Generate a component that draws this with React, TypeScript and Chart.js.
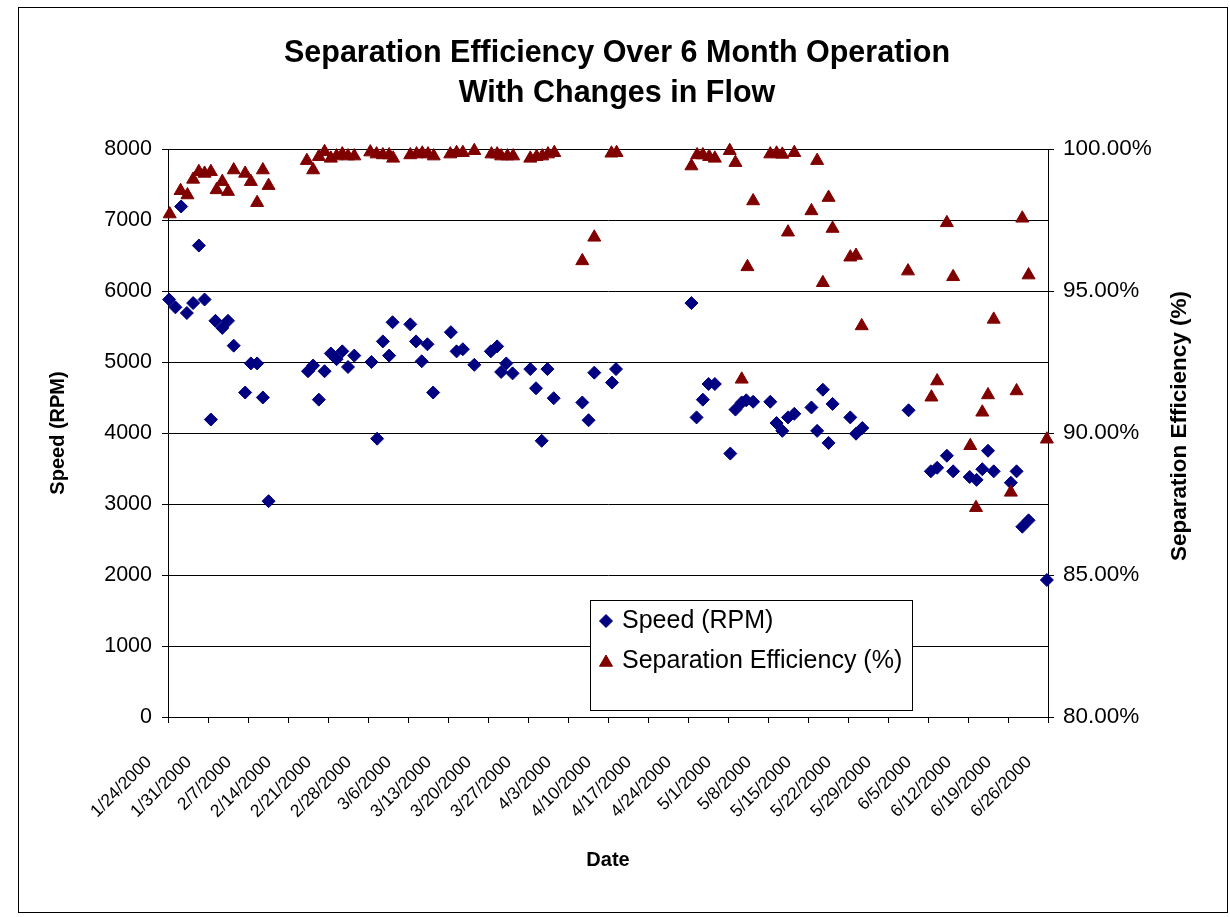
import React, { useEffect, useRef } from "react";
import { Chart, registerables } from "chart.js";

Chart.register(...registerables);

// ---- Text ----
const titleLines = ["Separation Efficiency Over 6 Month Operation", "With Changes in Flow"];
const xAxisTitle = "Date";
const leftAxisTitle = "Speed (RPM)";
const rightAxisTitle = "Separation Efficiency (%)";
const speedLabel = "Speed (RPM)";
const effLabel = "Separation Efficiency (%)";

// ---- Axis settings ----
const startDateUTC = Date.UTC(2000, 0, 24); // 1/24/2000 = day 0
const xMinDays = 0;
const xMaxDays = 154; // 6/26/2000
const xStepDays = 7;
const speedMin = 0;
const speedMax = 8000;
const speedStep = 1000;
const effMin = 80;
const effMax = 100;
const effStep = 5;

// ---- Data: speed (days since 1/24/2000, RPM) ----
const speedDays = [
  0.2, 1.3, 2.3, 3.3, 4.4, 5.4, 6.4, 7.5, 8.3, 9.5, 10.5, 11.5, 13.5, 14.5, 15.6, 16.6, 17.6,
  24.5, 25.4, 26.4, 27.4, 28.5, 29.5, 30.5, 31.5, 32.6,
  35.6, 36.6, 37.6, 38.7, 39.3,
  42.4, 43.4, 44.4, 45.4, 46.4,
  49.5, 50.5, 51.6, 53.6,
  56.5, 57.6, 58.3, 59.2, 60.3,
  63.4, 64.4, 65.4, 66.4, 67.5,
  72.5, 73.6, 74.6, 77.7, 78.4,
  91.6, 92.5, 93.6, 94.6, 95.7,
  98.4, 99.3, 100.4, 101.2, 102.4,
  105.4, 106.5, 107.5, 108.5, 109.6,
  112.6, 113.6, 114.6, 115.6, 116.3,
  119.4, 120.4, 121.5,
  129.6,
  133.5, 134.6, 136.3, 137.4,
  140.3, 141.5, 142.5, 143.5, 144.5,
  147.5, 148.5, 149.5, 150.6,
  153.8,
];
const speedRpm = [
  5880, 5770, 7190, 5690, 5830, 6640, 5880, 4190, 5580, 5480, 5580, 5230, 4570, 4980, 4980, 4500, 3040,
  4870, 4950, 4470, 4870, 5120, 5040, 5150, 4930, 5090,
  5000, 3920, 5290, 5090, 5560,
  5530, 5290, 5010, 5250, 4570,
  5420, 5150, 5180, 4960,
  5150, 5220, 4860, 4980, 4840,
  4900, 4630, 3890, 4900, 4490,
  4430, 4180, 4850, 4710, 4900,
  5830, 4220, 4470, 4690, 4690,
  3710, 4330, 4430, 4460, 4440,
  4440, 4140, 4030, 4220, 4270,
  4360, 4030, 4610, 3860, 4410,
  4220, 3990, 4070,
  4320,
  3460, 3510, 3680, 3460,
  3380, 3340, 3490, 3750, 3460,
  3300, 3460, 2680, 2770,
  1930,
];

// ---- Data: separation efficiency (days since 1/24/2000, %) ----
const effDays = [
  0.3, 2.2, 3.4, 4.4, 5.4, 6.4, 7.5, 8.5, 9.5, 10.5, 11.5, 13.5, 14.5, 15.6, 16.6, 17.6,
  24.3, 25.4, 26.4, 27.4, 28.5, 29.5, 30.5, 31.5, 32.6,
  35.4, 36.5, 37.6, 38.7, 39.4,
  42.4, 43.5, 44.5, 45.5, 46.5,
  49.4, 50.5, 51.6, 53.6,
  56.6, 57.6, 58.3, 59.4, 60.4,
  63.4, 64.5, 65.5, 66.5, 67.6,
  72.5, 74.6, 77.6, 78.5,
  91.6, 92.6, 93.6, 94.7, 95.7,
  98.3, 99.3, 100.4, 101.4, 102.4,
  105.4, 106.5, 107.5, 108.5, 109.6,
  112.6, 113.6, 114.6, 115.6, 116.3,
  119.4, 120.4, 121.4,
  129.5,
  133.6, 134.6, 136.3, 137.4,
  140.4, 141.4, 142.5, 143.5, 144.5,
  147.5, 148.5, 149.5, 150.6,
  153.8,
];
const effPct = [
  97.71, 98.53, 98.38, 98.93, 99.2, 99.14, 99.2, 98.56, 98.85, 98.5, 99.26, 99.14, 98.85, 98.11, 99.26, 98.71,
  99.59, 99.26, 99.73, 99.9, 99.67, 99.75, 99.82, 99.75, 99.75,
  99.89, 99.82, 99.79, 99.79, 99.67,
  99.79, 99.82, 99.85, 99.82, 99.75,
  99.82, 99.87, 99.87, 99.94,
  99.82, 99.82, 99.75, 99.75, 99.75,
  99.67, 99.73, 99.75, 99.82, 99.87,
  96.06, 96.89, 99.85, 99.87,
  99.4, 99.79, 99.79, 99.73, 99.67,
  99.94, 99.52, 91.89, 95.85, 98.17,
  99.82, 99.85, 99.81, 97.07, 99.87,
  97.82, 99.59, 95.29, 98.29, 97.2,
  96.19, 96.25, 93.77,
  95.7,
  91.26, 91.83, 97.4, 95.5,
  89.55, 87.37, 90.73, 91.34, 94.0,
  87.91, 91.48, 97.56, 95.56,
  89.78,
];

// ---- Styles ----
const FONT = "'Liberation Sans', Arial, Helvetica, sans-serif";
const speedColor = "#000080";
const effColor = "#800000";

function formatDay(v: number): string {
  const d = new Date(startDateUTC + Math.round(v) * 86400000);
  return `${d.getUTCMonth() + 1}/${d.getUTCDate()}/${d.getUTCFullYear()}`;
}

function diamond(ctx: CanvasRenderingContext2D, x: number, y: number, r: number) {
  ctx.beginPath();
  ctx.moveTo(x - r, y);
  ctx.lineTo(x, y - r);
  ctx.lineTo(x + r, y);
  ctx.lineTo(x, y + r);
  ctx.closePath();
}
function triangle(ctx: CanvasRenderingContext2D, x: number, y: number, r: number) {
  ctx.beginPath();
  for (let i = 0; i < 3; i++) {
    const a = (i * 2 * Math.PI) / 3;
    const px = x + Math.sin(a) * r;
    const py = y - Math.cos(a) * r;
    if (i === 0) ctx.moveTo(px, py);
    else ctx.lineTo(px, py);
  }
  ctx.closePath();
}

const decorPlugin = {
  id: "decor",
  beforeDraw(chart: any) {
    const ctx = chart.ctx as CanvasRenderingContext2D;
    ctx.save();
    ctx.fillStyle = "#ffffff";
    ctx.fillRect(0, 0, chart.width, chart.height);
    ctx.strokeStyle = "#000";
    ctx.lineWidth = 1;
    ctx.strokeRect(18.5, 7.5, 1209, 905);
    ctx.restore();
  },
  afterDraw(chart: any) {
    const ctx = chart.ctx as CanvasRenderingContext2D;
    ctx.save();
    // right axis title (reads bottom to top)
    ctx.translate(1180, 426);
    ctx.rotate(-Math.PI / 2);
    ctx.font = `bold 22.5px ${FONT}`;
    ctx.fillStyle = "#000";
    ctx.textAlign = "center";
    ctx.textBaseline = "middle";
    ctx.fillText(rightAxisTitle, 0, 0);
    ctx.restore();

    // legend box
    ctx.save();
    const bx = 590.5, by = 600.5, bw = 322, bh = 110;
    ctx.fillStyle = "#fff";
    ctx.fillRect(bx, by, bw, bh);
    ctx.strokeStyle = "#000";
    ctx.lineWidth = 1;
    ctx.strokeRect(bx, by, bw, bh);
    ctx.font = `25px ${FONT}`;
    ctx.textAlign = "left";
    ctx.textBaseline = "middle";
    const rows = [
      { label: speedLabel, color: speedColor, shape: "d" },
      { label: effLabel, color: effColor, shape: "t" },
    ];
    rows.forEach((row, i) => {
      const cy = 621 + i * 40;
      ctx.fillStyle = row.color;
      ctx.strokeStyle = row.color;
      if (row.shape === "d") diamond(ctx, 606, cy, 6.5);
      else triangle(ctx, 606, cy + 1.5, 7.5);
      ctx.fill();
      ctx.stroke();
      ctx.fillStyle = "#000";
      ctx.fillText(row.label, 622, cy);
    });
    ctx.restore();
  },
};

export default function App() {
  const canvasRef = useRef<HTMLCanvasElement | null>(null);

  useEffect(() => {
    if (!canvasRef.current) return;
    const speedData = speedDays.map((d, i) => ({ x: d, y: speedRpm[i] }));
    const effData = effDays.map((d, i) => ({ x: d, y: effPct[i] }));

    const chart = new Chart(canvasRef.current, {
      type: "scatter",
      data: {
        datasets: [
          {
            label: speedLabel,
            data: speedData,
            yAxisID: "y",
            pointStyle: "rectRot",
            pointRadius: 6.5,
            pointBackgroundColor: speedColor,
            pointBorderColor: speedColor,
            pointBorderWidth: 1,
            backgroundColor: speedColor,
            borderColor: speedColor,
            showLine: false,
            clip: false,
            order: 1,
          },
          {
            label: effLabel,
            data: effData,
            yAxisID: "y2",
            pointStyle: "triangle",
            pointRadius: 7.5,
            pointBackgroundColor: effColor,
            pointBorderColor: effColor,
            pointBorderWidth: 1,
            backgroundColor: effColor,
            borderColor: effColor,
            showLine: false,
            clip: false,
            order: 0,
          },
        ],
      },
      options: {
        animation: false,
        responsive: false,
        events: [],
        layout: { padding: { left: 4, right: 0, top: 0, bottom: 30 } },
        plugins: {
          legend: { display: false },
          tooltip: { enabled: false },
          title: {
            display: true,
            text: titleLines,
            color: "#000",
            font: { family: FONT, size: 30.5, weight: "bold", lineHeight: 40 / 30.5 },
            padding: { top: 34, bottom: 35 },
          },
        },
        scales: {
          x: {
            type: "linear",
            position: "bottom",
            min: xMinDays,
            max: xMaxDays,
            afterFit: (s: any) => {
              s.height = 170;
            },
            ticks: {
              stepSize: xStepDays,
              autoSkip: false,
              maxRotation: 45,
              minRotation: 45,
              color: "#000",
              font: { family: FONT, size: 17.5 },
              padding: 29,
              labelOffset: -19,
              callback: (v: any) => formatDay(Number(v)),
            },
            grid: { drawOnChartArea: false, tickLength: 6, color: "#000" },
            border: { color: "#000", width: 1 },
            title: {
              display: true,
              text: xAxisTitle,
              color: "#000",
              font: { family: FONT, size: 20, weight: "bold" },
              padding: { top: 0, bottom: 15 },
            },
          },
          y: {
            type: "linear",
            position: "left",
            min: speedMin,
            max: speedMax,
            afterFit: (s: any) => {
              s.width = 164;
            },
            ticks: {
              stepSize: speedStep,
              color: "#000",
              font: { family: FONT, size: 21.5 },
              padding: 10,
              callback: (v: any) => String(v),
            },
            grid: { color: "#000", tickLength: 6 },
            border: { color: "#000", width: 1 },
            title: {
              display: true,
              text: leftAxisTitle,
              color: "#000",
              font: { family: FONT, size: 20, weight: "bold" },
              padding: { top: 42, bottom: 0 },
            },
          },
          y2: {
            type: "linear",
            position: "right",
            min: effMin,
            max: effMax,
            afterFit: (s: any) => {
              s.width = 182;
            },
            ticks: {
              stepSize: effStep,
              color: "#000",
              font: { family: FONT, size: 22.5 },
              padding: 9,
              callback: (v: any) => `${Number(v).toFixed(2)}%`,
            },
            grid: { drawOnChartArea: false, tickLength: 6, color: "#000" },
            border: { color: "#000", width: 1 },
          },
        },
      },
      plugins: [decorPlugin],
    } as any);

    return () => chart.destroy();
  }, []);

  return (
    <canvas
      ref={canvasRef}
      width={1230}
      height={917}
      style={{ position: "absolute", left: 0, top: 0, width: 1230, height: 917 }}
    />
  );
}
